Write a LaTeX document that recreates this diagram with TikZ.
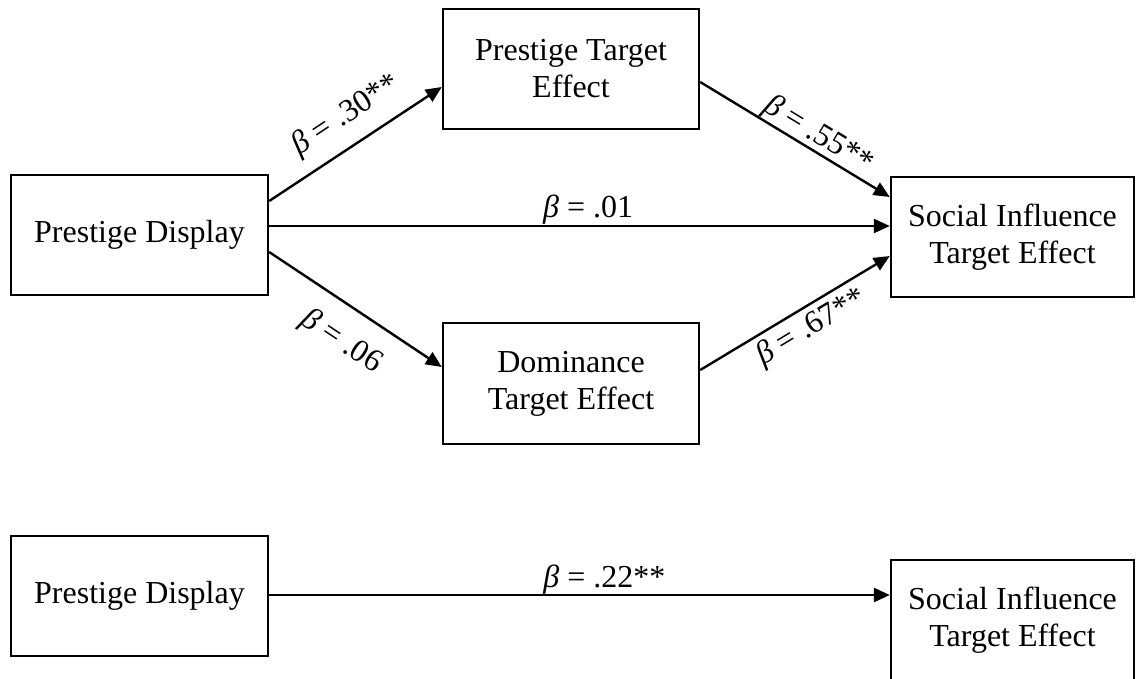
\documentclass[tikz,border=0pt]{standalone}
\usepackage{fontspec}
\setmainfont{Liberation Serif}
\usetikzlibrary{arrows.meta}
\tikzset{
  box/.style={draw, line width=2.4pt, align=center, inner sep=0pt,
    font=\fontsize{32}{37}\selectfont},
  path arrow/.style={line width=2.4pt, -{Triangle[length=16pt,width=14pt]}},
  coef/.style={font=\fontsize{32}{37}\selectfont, inner sep=0pt},
}
\newcommand{\bet}{\textit{β}}
\begin{document}
\begin{tikzpicture}[x=1pt,y=-1pt]
\useasboundingbox (0,0) rectangle (1143,678);

% mediation model
\node[box, minimum width=257pt, minimum height=120pt] (pd)  at (139.5,235)  {Prestige Display};
\node[box, minimum width=256pt, minimum height=120pt] (pte) at (571,69)     {Prestige Target\\Effect};
\node[box, minimum width=256pt, minimum height=121pt] (dte) at (571,383.5)  {Dominance\\Target Effect};
\node[box, minimum width=243pt, minimum height=120pt] (si)  at (1012.5,237) {Social Influence\\Target Effect};

\draw[path arrow] ([yshift=34pt]pd.east) -- ([yshift=-18pt]pte.west)
  node[coef, pos=0.54, sloped, anchor=center, yshift=29pt] {\bet{} = .30**};
\draw[path arrow] ([yshift=9pt]pd.east) -- ([yshift=11pt]si.west)
  node[coef, pos=0.514, anchor=base, yshift=9pt] {\bet{} = .01};
\draw[path arrow] ([yshift=-17pt]pd.east) -- ([yshift=16.5pt]dte.west)
  node[coef, pos=0.53, sloped, anchor=center, yshift=-35pt] {\bet{} = .06};
\draw[path arrow] ([yshift=-13pt]pte.east) -- ([yshift=40pt]si.west)
  node[coef, pos=0.58, sloped, anchor=center, yshift=16pt] {\bet{} = .55**};
\draw[path arrow] ([yshift=13.5pt]dte.east) -- ([yshift=-19pt]si.west)
  node[coef, pos=0.53, sloped, anchor=center, yshift=-21pt] {\bet{} = .67**};

% total effect
\node[box, minimum width=257pt, minimum height=120pt] (pd2) at (139.5,596) {Prestige Display};
\node[box, minimum width=243pt, minimum height=120pt] (si2) at (1012.5,620) {Social Influence\\Target Effect};

\draw[path arrow] ([yshift=1pt]pd2.east) -- ([yshift=25pt]si2.west)
  node[coef, pos=0.54, anchor=base, yshift=8pt] {\bet{} = .22**};
\end{tikzpicture}
\end{document}
